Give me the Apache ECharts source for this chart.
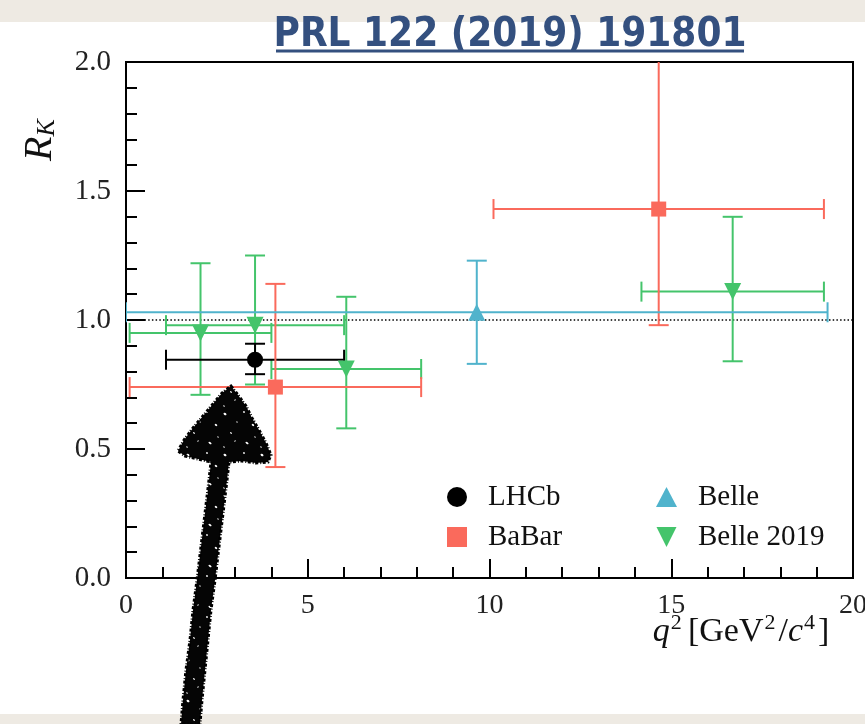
<!DOCTYPE html>
<html>
<head>
<meta charset="utf-8">
<script src="https://cdn.jsdelivr.net/npm/echarts@6/dist/echarts.min.js"></script>
<style>
  html, body { margin: 0; padding: 0; background: #eeeae3; }
  #chart { width: 865px; height: 724px; }
</style>
</head>
<body>
<div id="chart"></div>
<script>
// q^2 bins [low, high] in GeV^2/c^4, R_K central values and [down, up] errors
const lhcbBins = [[1.1, 6.0]];
const lhcbRK = [0.846];
const lhcbErr = [[0.056, 0.062]];

const babarBins = [[0.1, 8.12], [10.11, 19.2]];
const babarRK = [0.74, 1.43];
const babarErr = [[0.31, 0.40], [0.45, 0.65]];

const belleBins = [[0.0, 19.3]];
const belleRK = [1.03];
const belleErr = [[0.20, 0.20]];

const belle2019Bins = [[0.1, 4.0], [1.1, 6.0], [4.0, 8.12], [14.18, 19.2]];
const belle2019RK = [0.95, 0.98, 0.81, 1.11];
const belle2019Err = [[0.24, 0.27], [0.23, 0.27], [0.23, 0.28], [0.27, 0.29]];

const xTicks = [0, 5, 10, 15, 20];
const yTicks = [0.0, 0.5, 1.0, 1.5, 2.0];

const COLORS = {
  lhcb: '#000000',
  babar: '#fa6a5c',
  belle: '#50b3cc',
  belle2019: '#44c46b'
};

const SERIF = '"Liberation Serif", "DejaVu Serif", serif';

// rows: [xLow, xHigh, xCenter, y, yLow, yHigh]
function rows(bins, vals, errs) {
  return bins.map((b, i) => [b[0], b[1], (b[0] + b[1]) / 2, vals[i], vals[i] - errs[i][0], vals[i] + errs[i][1]]);
}

function errorBarSeries(name, color, data, z) {
  return {
    type: 'custom',
    name: name,
    clip: true,
    z: z,
    data: data,
    encode: { x: [0, 1, 2], y: [3, 4, 5] },
    renderItem: function (params, api) {
      const xl = api.value(0), xh = api.value(1), xc = api.value(2);
      const y = api.value(3), yl = api.value(4), yh = api.value(5);
      const pL = api.coord([xl, y]);
      const pR = api.coord([xh, y]);
      const pB = api.coord([xc, yl]);
      const pT = api.coord([xc, yh]);
      const cap = 10;
      const style = { stroke: color, lineWidth: 2, fill: null };
      const seg = (x1, y1, x2, y2) => ({ type: 'line', shape: { x1, y1, x2, y2 }, style });
      return {
        type: 'group',
        children: [
          seg(pL[0], pL[1], pR[0], pR[1]),
          seg(pB[0], pB[1], pT[0], pT[1]),
          seg(pL[0], pL[1] - cap, pL[0], pL[1] + cap),
          seg(pR[0], pR[1] - cap, pR[0], pR[1] + cap),
          seg(pB[0] - cap, pB[1], pB[0] + cap, pB[1]),
          seg(pT[0] - cap, pT[1], pT[0] + cap, pT[1])
        ]
      };
    }
  };
}

function markerSeries(name, color, data, symbol, size, rotate, z) {
  return {
    type: 'scatter',
    name: name,
    z: z,
    symbol: symbol,
    symbolSize: size,
    symbolRotate: rotate,
    itemStyle: { color: color, opacity: 1 },
    data: data.map(r => [r[2], r[3]])
  };
}

const lhcbRows = rows(lhcbBins, lhcbRK, lhcbErr);
const babarRows = rows(babarBins, babarRK, babarErr);
const belleRows = rows(belleBins, belleRK, belleErr);
const belle2019Rows = rows(belle2019Bins, belle2019RK, belle2019Err);

// speckled marker-pen texture for the arrow
function penTexture() {
  const c = document.createElement('canvas');
  c.width = 37; c.height = 41;
  const g = c.getContext('2d');
  g.fillStyle = '#050505';
  g.fillRect(0, 0, 37, 41);
  g.fillStyle = '#ffffff';
  const specks = [[3, 4, 1.6, 1.1], [22, 2, 1.0, 0.8], [31, 15, 1.4, 1.0], [9, 23, 1.1, 0.7],
                  [25, 33, 1.7, 1.0], [2, 37, 0.9, 0.6], [15, 12, 0.7, 0.6], [33, 27, 0.8, 0.5],
                  [13, 31, 0.6, 0.9]];
  specks.forEach(s => { g.beginPath(); g.ellipse(s[0], s[1], s[2], s[3], 0.6, 0, Math.PI * 2); g.fill(); });
  return c;
}

const chart = echarts.init(document.getElementById('chart'), null, { renderer: 'canvas' });

const legendText = { fontFamily: SERIF, fontSize: 29, color: '#111', padding: [0, 0, 0, 16], lineHeight: 30 };

// hand-drawn arrow pointing at the LHCb measurement
const arrowPts = [
  [231, 386], [238, 395], [246, 406], [252, 418], [259, 430], [266, 443], [271, 455], [268, 462],
  [256, 463], [242, 461], [229, 462], [227, 480], [224, 505], [221, 530], [218, 555], [215, 580],
  [211, 610], [208, 640], [205, 670], [202, 700], [200, 724], [181, 724], [183, 700], [186, 670],
  [190, 640], [193, 610], [197, 580], [200, 555], [203, 530], [206, 505], [209, 480], [211, 462],
  [198, 459], [185, 456], [178, 451], [184, 440], [193, 428], [203, 416], [213, 404], [222, 393]
];

chart.setOption({
  backgroundColor: '#eeeae3',
  animation: false,
  grid: {
    left: 126, right: 12, top: 62, bottom: 146,
    outerBoundsMode: 'none', containLabel: false,
    show: true, borderColor: '#000', borderWidth: 2, backgroundColor: 'transparent'
  },
  xAxis: {
    type: 'value', min: xTicks[0], max: xTicks[xTicks.length - 1], interval: 5,
    axisLine: { onZero: false, lineStyle: { color: '#000', width: 2 } },
    axisTick: { inside: true, length: 19, lineStyle: { color: '#000', width: 2 } },
    minorTick: { show: true, splitNumber: 5, length: 11, lineStyle: { color: '#000', width: 2 } },
    splitLine: { show: false },
    axisLabel: { margin: 14, fontFamily: SERIF, fontSize: 28, color: '#222', showMaxLabel: true, hideOverlap: false }
  },
  yAxis: {
    type: 'value', min: yTicks[0], max: yTicks[yTicks.length - 1], interval: 0.5,
    axisLine: { onZero: false, lineStyle: { color: '#000', width: 2 } },
    axisTick: { inside: true, length: 19, lineStyle: { color: '#000', width: 2 } },
    minorTick: { show: true, splitNumber: 5, length: 11, lineStyle: { color: '#000', width: 2 } },
    splitLine: { show: false },
    axisLabel: { margin: 15, fontFamily: SERIF, fontSize: 29, color: '#222', formatter: v => v.toFixed(1) }
  },
  legend: [
    {
      orient: 'vertical', left: 442, top: 477, itemWidth: 20, itemHeight: 20, itemGap: 10,
      selectedMode: false, textStyle: legendText,
      data: [
        { name: 'LHCb', icon: 'circle', itemStyle: { color: COLORS.lhcb } },
        { name: 'BaBar', icon: 'rect', itemStyle: { color: COLORS.babar } }
      ]
    },
    {
      orient: 'vertical', left: 651, top: 477, itemWidth: 21, itemHeight: 20, itemGap: 10,
      selectedMode: false, textStyle: legendText,
      data: [
        { name: 'Belle', icon: 'triangle', itemStyle: { color: COLORS.belle } },
        { name: 'Belle 2019', icon: 'path://M0,0 L10,0 L5,10 Z', itemStyle: { color: COLORS.belle2019 } }
      ]
    }
  ],
  series: [
    {
      type: 'line', name: 'SM', silent: true, symbol: 'none', z: 1,
      lineStyle: { color: '#000', width: 1.5, type: [1.5, 2.2] },
      data: [[xTicks[0], 1], [xTicks[xTicks.length - 1], 1]]
    },
    errorBarSeries('Belle 2019', COLORS.belle2019, belle2019Rows, 3),
    errorBarSeries('LHCb', COLORS.lhcb, lhcbRows, 4),
    errorBarSeries('BaBar', COLORS.babar, babarRows, 5),
    errorBarSeries('Belle', COLORS.belle, belleRows, 6),
    markerSeries('Belle 2019', COLORS.belle2019, belle2019Rows, 'triangle', 17, 180, 7),
    markerSeries('LHCb', COLORS.lhcb, lhcbRows, 'circle', 16, 0, 8),
    markerSeries('BaBar', COLORS.babar, babarRows, 'rect', 15, 0, 9),
    markerSeries('Belle', COLORS.belle, belleRows, 'triangle', 17, 0, 10)
  ],
  graphic: [
    { type: 'rect', z: -100, silent: true, shape: { x: 0, y: 22, width: 865, height: 692 }, style: { fill: '#ffffff' } },
    {
      type: 'text', z: 50, x: 510, y: 36,
      style: {
        text: 'PRL 122 (2019) 191801', fill: '#34507f', align: 'center', verticalAlign: 'middle',
        font: 'bold 40px "Liberation Sans Narrow", "DejaVu Sans Condensed", sans-serif'
      }
    },
    { type: 'line', z: 50, shape: { x1: 276, y1: 51, x2: 744, y2: 51 }, style: { stroke: '#34507f', lineWidth: 3 } },
    {
      type: 'text', z: 50, x: 40, y: 140, rotation: Math.PI / 2,
      style: {
        text: '{r|R}{k|K}', align: 'center', verticalAlign: 'middle',
        rich: {
          r: { fontFamily: SERIF, fontStyle: 'italic', fontSize: 40, fill: '#111' },
          k: { fontFamily: SERIF, fontStyle: 'italic', fontSize: 26, fill: '#111', padding: [14, 0, 0, 0] }
        }
      }
    },
    {
      type: 'text', z: 50, x: 741, y: 632,
      style: {
        text: '{i|q}{s|2} {n|[GeV}{s|2}{n|/}{i|c}{s|4}{n|]}', align: 'center', verticalAlign: 'middle',
        rich: {
          i: { fontFamily: SERIF, fontStyle: 'italic', fontSize: 34, fill: '#111' },
          n: { fontFamily: SERIF, fontSize: 34, fill: '#111' },
          s: { fontFamily: SERIF, fontSize: 22, fill: '#111', padding: [0, 3, 18, 1] }
        }
      }
    },
    {
      type: 'polygon', z: 100, silent: true,
      shape: { points: arrowPts },
      style: {
        fill: { image: penTexture(), repeat: 'repeat' },
        stroke: '#000', lineWidth: 3, lineDash: [3, 1.5, 1, 2]
      }
    }
  ]
});
</script>
</body>
</html>
